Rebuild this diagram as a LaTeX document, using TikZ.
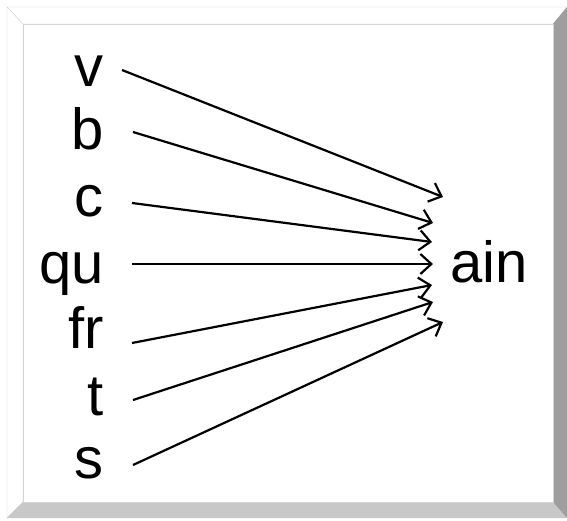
\documentclass[tikz,border=0pt]{standalone}
\usepackage{fontspec}
\setmainfont{Liberation Sans}
\usetikzlibrary{arrows.meta}
\definecolor{bevelline}{HTML}{D4D4D4}
\definecolor{bevelbottom}{HTML}{C8C8C8}
\definecolor{bevelright}{HTML}{9E9E9E}
\tikzset{
  lbl/.style={inner sep=0pt, anchor=base east, font=\fontsize{58}{60}\selectfont},
  arr/.style={line width=2.2pt, -{Straight Barb[length=11pt,width=20pt]}},
}
% name, text, baseline, start x, start y, tip x, tip y
\newcommand{\onset}[7]{
  \node[lbl] (#1) at (104, #3) {#2};
  \coordinate (#1tip) at (#6, #7);
  \draw[arr] ([shift={(#4-104, #5-#3)}]#1.base east) -- (#1tip);
}

\begin{document}
\begin{tikzpicture}[x=1pt, y=-1pt]
\useasboundingbox (0,0) rectangle (567,521);
\fill[white] (0,0) rectangle (567,521);

% bevelled frame
\filldraw[fill=white, draw=bevelline] (7,7) -- (567,7) -- (553,24) -- (23,24) -- cycle;
\filldraw[fill=white, draw=bevelline] (7,7) -- (23,24) -- (23,502) -- (7,518) -- cycle;
\fill[bevelbottom] (7,518) -- (23,502) -- (553,502) -- (567,518) -- cycle;
\fill[bevelright] (567,7) -- (553,24) -- (553,502) -- (567,518) -- cycle;
\draw[bevelline] (23,24) rectangle (553,502);

\node[lbl, anchor=base west] (ain) at (450, 282) {ain};

\onset{v}{v}{87}{122}{70}{443}{197}
\onset{b}{b}{150}{133}{132}{433}{223}
\onset{c}{c}{217}{132}{203}{432}{242}
\onset{qu}{qu}{283}{132}{264}{433}{264}
\onset{fr}{fr}{348}{132}{343}{432}{285}
\onset{t}{t}{415}{133}{400}{433}{302}
\onset{s}{s}{478}{133}{465}{443}{322}

\end{tikzpicture}
\end{document}
